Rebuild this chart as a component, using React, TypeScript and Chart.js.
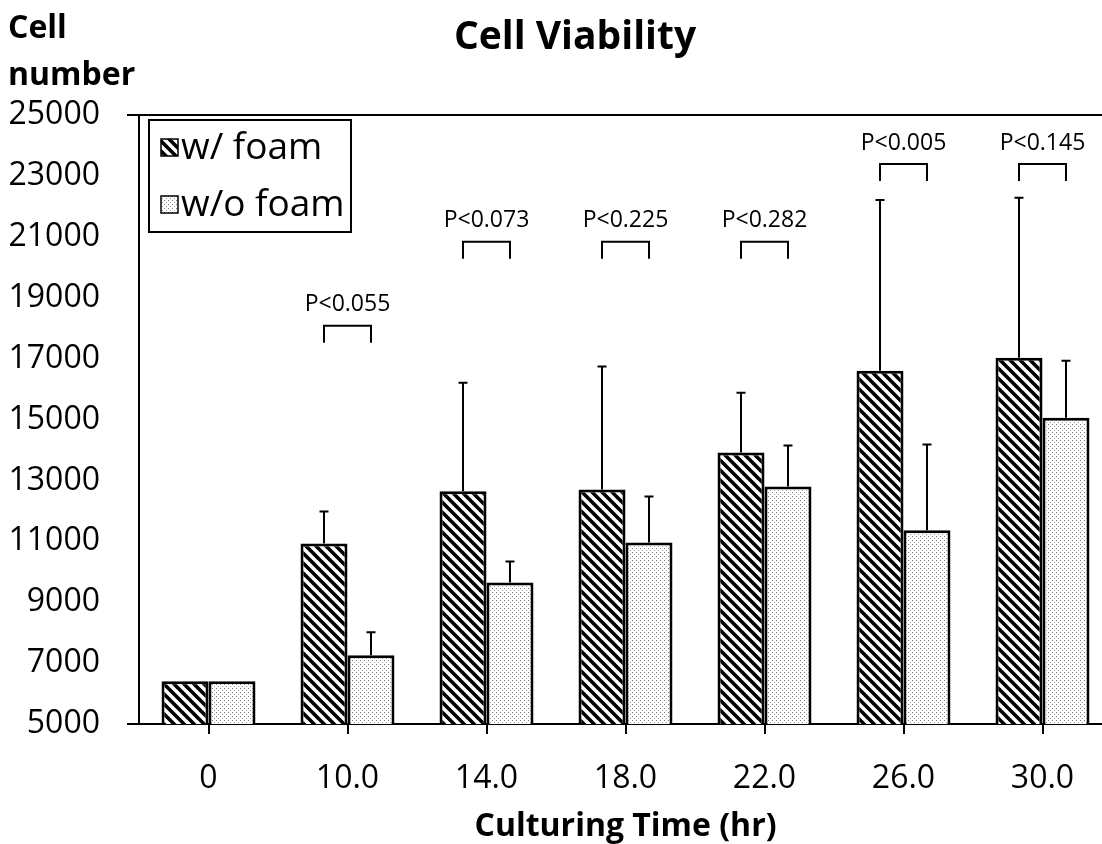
import React, { useEffect, useRef } from 'react';
import { Chart, registerables } from 'chart.js';

Chart.register(...registerables);

const categories = ['0', '10.0', '14.0', '18.0', '22.0', '26.0', '30.0'];
const withFoam = [6400, 10930, 12640, 12700, 13920, 16600, 17030];
const withFoamErrTop = [null, 11980, 16210, 16740, 15880, 22210, 22280];
const withoutFoam = [6400, 7260, 9650, 10960, 12800, 11360, 15060];
const withoutFoamErrTop = [null, 8010, 10340, 12470, 14150, 14180, 16930];
const pLabels = ['', 'P<0.055', 'P<0.073', 'P<0.225', 'P<0.282', 'P<0.005', 'P<0.145'];
const bracketTop = [null, 18080, 20840, 20840, 20840, 23390, 23390];
const seriesNames = ['w/ foam', 'w/o foam'];
const xTitle = 'Culturing Time (hr)';
const chartTitle = 'Cell Viability';
const yTitleLines = ['Cell', 'number'];

const FONT = "'Open Sans', sans-serif";

function makeHatch(): CanvasPattern {
  const c = document.createElement('canvas');
  const s = 10;
  c.width = s;
  c.height = s;
  const g = c.getContext('2d')!;
  g.fillStyle = '#fff';
  g.fillRect(0, 0, s, s);
  g.strokeStyle = '#000';
  g.lineWidth = 3.6;
  g.beginPath();
  for (const a of [-s, 0, s]) {
    g.moveTo(a - 1, -1);
    g.lineTo(a + s + 1, s + 1);
  }
  g.stroke();
  return g.createPattern(c, 'repeat')!;
}

function makeDots(): CanvasPattern {
  const c = document.createElement('canvas');
  const s = 4;
  c.width = s;
  c.height = s;
  const g = c.getContext('2d')!;
  g.fillStyle = '#fff';
  g.fillRect(0, 0, s, s);
  g.fillStyle = '#777';
  g.fillRect(0, 0, 1, 1);
  g.fillStyle = '#9a9a9a';
  g.fillRect(2, 2, 1, 1);
  return g.createPattern(c, 'repeat')!;
}

export default function App() {
  const ref = useRef<HTMLCanvasElement>(null);

  useEffect(() => {
    document.body.style.margin = '0';
    const hatch = makeHatch();
    const dots = makeDots();
    const fills = [hatch, dots];

    const annot = {
      id: 'annot',
      afterDatasetsDraw(chart: any) {
        const ctx = chart.ctx;
        const ys = chart.scales.y;
        ctx.save();
        ctx.strokeStyle = '#000';
        ctx.lineWidth = 2;
        [withFoamErrTop, withoutFoamErrTop].forEach((errs, di) => {
          const meta = chart.getDatasetMeta(di);
          meta.data.forEach((bar: any, j: number) => {
            const e = errs[j];
            if (e == null) return;
            const yt = ys.getPixelForValue(e);
            ctx.beginPath();
            ctx.moveTo(bar.x, bar.y);
            ctx.lineTo(bar.x, yt);
            ctx.moveTo(bar.x - 4.5, yt);
            ctx.lineTo(bar.x + 4.5, yt);
            ctx.stroke();
          });
        });
        const m0 = chart.getDatasetMeta(0);
        const m1 = chart.getDatasetMeta(1);
        ctx.fillStyle = '#000';
        ctx.font = `23px ${FONT}`;
        ctx.textAlign = 'center';
        ctx.textBaseline = 'middle';
        categories.forEach((_, j) => {
          const bt = bracketTop[j];
          if (bt == null) return;
          const x1 = m0.data[j].x;
          const x2 = m1.data[j].x;
          const yt = ys.getPixelForValue(bt);
          ctx.beginPath();
          ctx.moveTo(x1, yt + 17);
          ctx.lineTo(x1, yt);
          ctx.lineTo(x2, yt);
          ctx.lineTo(x2, yt + 17);
          ctx.stroke();
          ctx.fillText(pLabels[j], (x1 + x2) / 2, yt - 21);
        });
        ctx.restore();
      },
      afterDraw(chart: any) {
        const ctx = chart.ctx;
        const area = chart.chartArea;
        ctx.save();
        ctx.fillStyle = '#000';
        ctx.textBaseline = 'middle';
        // title
        ctx.textAlign = 'center';
        ctx.font = `bold 39px ${FONT}`;
        ctx.fillText(chartTitle, 575, 38);
        // x axis title
        ctx.textBaseline = 'alphabetic';
        ctx.font = `bold 32px ${FONT}`;
        ctx.fillText(xTitle, (area.left + area.right) / 2, 836);
        // y axis title
        ctx.textBaseline = 'middle';
        ctx.textAlign = 'left';
        ctx.font = `bold 32px ${FONT}`;
        ctx.fillText(yTitleLines[0], 8, 29);
        ctx.fillText(yTitleLines[1], 8, 76);
        // legend
        ctx.strokeStyle = '#000';
        ctx.lineWidth = 2;
        ctx.strokeRect(149, 120, 202, 112);
        const rows = [148, 205];
        rows.forEach((cy, i) => {
          ctx.fillStyle = fills[i];
          ctx.fillRect(161, cy - 9, 17, 17);
          ctx.lineWidth = 1.5;
          ctx.strokeRect(161, cy - 9, 17, 17);
          ctx.fillStyle = '#000';
          ctx.font = `37px ${FONT}`;
          ctx.fillText(seriesNames[i], 181, cy);
        });
        ctx.restore();
      },
    };

    const chart = new Chart(ref.current!, {
      type: 'bar',
      data: {
        labels: categories,
        datasets: [
          {
            label: seriesNames[0],
            data: withFoam,
            backgroundColor: hatch as any,
            borderColor: '#000',
            borderWidth: 3,
            barPercentage: 1,
            categoryPercentage: 0.676,
          },
          {
            label: seriesNames[1],
            data: withoutFoam,
            backgroundColor: dots as any,
            borderColor: '#000',
            borderWidth: 3,
            barPercentage: 1,
            categoryPercentage: 0.676,
          },
        ],
      },
      options: {
        responsive: false,
        animation: false,
        devicePixelRatio: 1,
        layout: { padding: { top: 115, right: 13, left: 0, bottom: 0 } },
        plugins: {
          legend: { display: false },
          title: { display: false },
          tooltip: { enabled: false },
        },
        scales: {
          x: {
            grid: {
              drawOnChartArea: false,
              offset: false,
              tickLength: 10,
              color: '#000',
              lineWidth: 2,
            },
            border: { color: '#000', width: 2 },
            ticks: { color: '#000', font: { family: FONT, size: 32 }, padding: 26 },
            afterFit: (s: any) => {
              s.height = 120;
            },
          },
          y: {
            min: 5000,
            max: 25000,
            ticks: {
              stepSize: 2000,
              color: '#000',
              font: { family: FONT, size: 32 },
              padding: 27,
              callback: (v: any) => String(v),
            },
            grid: {
              color: (c: any) =>
                c.tick && (c.tick.value === 25000 || c.tick.value === 5000) ? '#000' : 'rgba(0,0,0,0)',
              tickLength: 12,
              lineWidth: 2,
            },
            border: { color: '#000', width: 2 },
            afterFit: (s: any) => {
              s.width = 139;
            },
          },
        },
      },
      plugins: [annot],
    });
    return () => chart.destroy();
  }, []);

  return (
    <div style={{ width: 1102, height: 844, overflow: 'hidden' }}>
      <canvas ref={ref} width={1125} height={844} />
    </div>
  );
}
